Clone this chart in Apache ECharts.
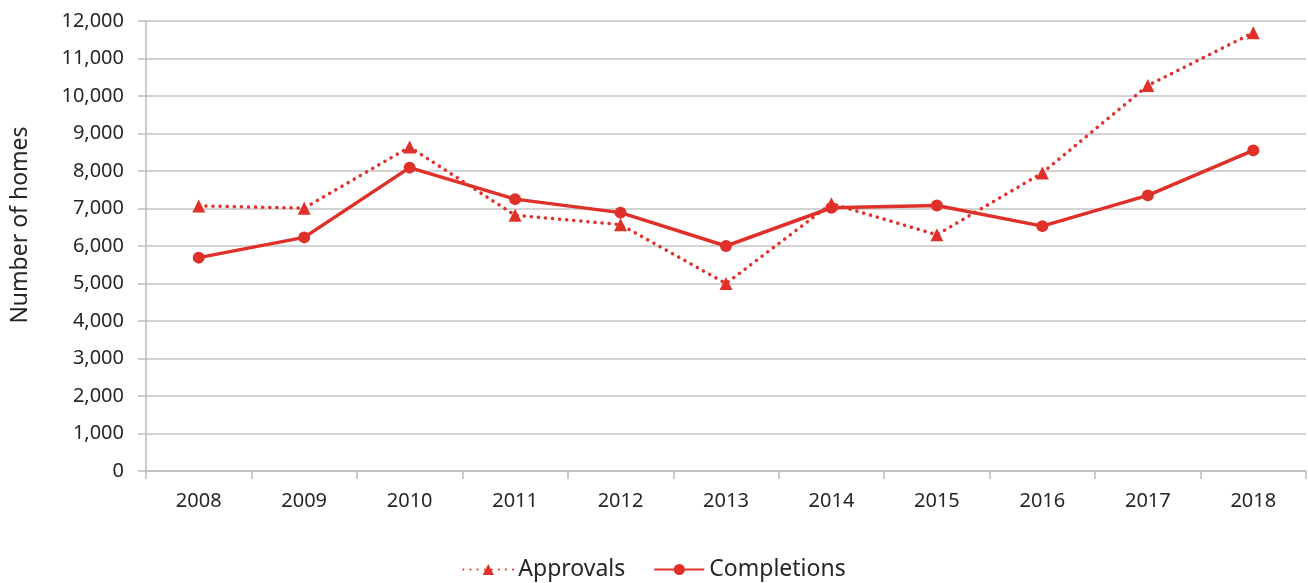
<!DOCTYPE html>
<html>
<head>
<meta charset="utf-8">
<script src="https://cdn.jsdelivr.net/npm/echarts@6/dist/echarts.min.js"></script>
<style>
    html, body { margin: 0; padding: 0; background: #fff; }
    #main { width: 1308px; height: 583px; }
</style>
</head>
<body>
<div id="main"></div>
<script>
const years = ["2008", "2009", "2010", "2011", "2012", "2013", "2014", "2015", "2016", "2017", "2018"];
const approvals = [7070, 7010, 8640, 6820, 6570, 5000, 7130, 6300, 7950, 10280, 11690];
const completions = [5690, 6230, 8090, 7250, 6890, 6000, 7020, 7080, 6530, 7350, 8550];
const yTicks = { min: 0, max: 12000, interval: 1000 };

const red = "#E0302A";
const font = "Noto Sans";

let myChart = echarts.init(document.getElementById("main"));

const option = {
    animation: false,
    grid: {
        left: 146,
        right: 2,
        top: 21,
        bottom: 112
    },
    legend: {
        top: 553,
        left: "center",
        itemWidth: 50,
        itemHeight: 14,
        itemGap: 28,
        textStyle: {
            color: "#262626",
            fontFamily: font,
            fontSize: 23
        },
        data: ["Approvals", "Completions"]
    },
    graphic: [{
        type: "text",
        x: 20,
        y: 225,
        rotation: Math.PI / 2,
        style: {
            text: "Number of homes",
            fill: "#262626",
            font: "23px 'Noto Sans'",
            textAlign: "center",
            textVerticalAlign: "middle"
        }
    }],
    xAxis: {
        type: "category",
        boundaryGap: true,
        data: years,
        axisLine: {
            lineStyle: { color: "#BDBDBD", width: 1.5 }
        },
        axisTick: {
            show: true,
            length: 8,
            lineStyle: { color: "#BDBDBD", width: 1.5 }
        },
        axisLabel: {
            margin: 20,
            color: "#262626",
            fontFamily: font,
            fontSize: 20
        }
    },
    yAxis: {
        type: "value",
        min: yTicks.min,
        max: yTicks.max,
        interval: yTicks.interval,
        axisLine: {
            show: true,
            lineStyle: { color: "#BDBDBD", width: 1.5 }
        },
        axisTick: {
            show: true,
            length: 8,
            lineStyle: { color: "#BDBDBD", width: 1.5 }
        },
        splitLine: {
            lineStyle: { color: "#C4C4C4", width: 1.5 }
        },
        axisLabel: {
            margin: 22,
            color: "#262626",
            fontFamily: font,
            fontSize: 20,
            formatter: function (v) {
                return v.toLocaleString("en-US");
            }
        }
    },
    series: [{
        name: "Approvals",
        type: "line",
        data: approvals,
        symbol: "triangle",
        symbolSize: 13,
        itemStyle: { color: red },
        lineStyle: {
            color: red,
            width: 3.5,
            type: [0.1, 7],
            cap: "round"
        },
        z: 2
    }, {
        name: "Completions",
        type: "line",
        data: completions,
        symbol: "circle",
        symbolSize: 12,
        itemStyle: { color: red },
        lineStyle: {
            color: red,
            width: 3.5
        },
        z: 3
    }]
};
myChart.setOption(option);
</script>
</body>
</html>
